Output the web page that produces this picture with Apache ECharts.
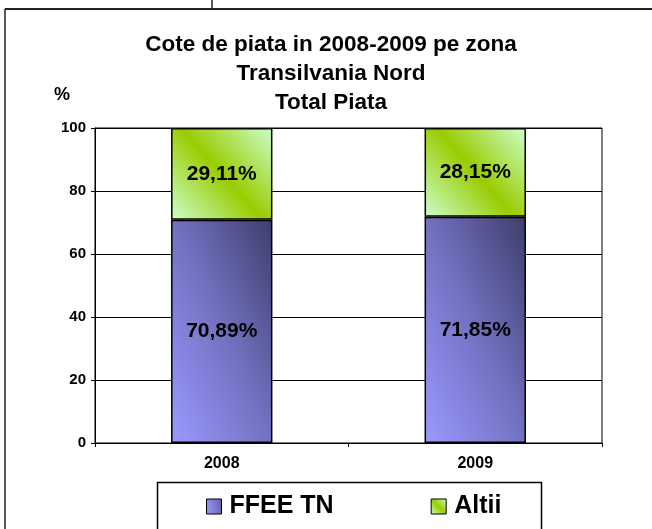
<!DOCTYPE html>
<html>
<head>
<meta charset="utf-8">
<script src="https://cdn.jsdelivr.net/npm/echarts@6/dist/echarts.min.js"></script>
<style>
html,body{margin:0;padding:0;background:#fff;}
#chart{width:652px;height:529px;}
</style>
</head>
<body>
<div id="chart"></div>
<script>
var categories = ['2008', '2009'];
var seriesNames = ['FFEE TN', 'Altii'];
var ffeeValues = [70.89, 71.85];
var altiiValues = [29.11, 28.15];
var yTicks = [0, 20, 40, 60, 80, 100];
var titleLines = ['Cote de piata in 2008-2009 pe zona', 'Transilvania Nord', 'Total Piata'];
var yUnit = '%';

var FONT = '"Liberation Sans", Arial, sans-serif';
var chart = echarts.init(document.getElementById('chart'), null, {renderer: 'canvas'});

function pctLabel(p) {
  return p.value.toFixed(2).replace('.', ',') + '%';
}

var ffeeColor = new echarts.graphic.LinearGradient(0, 1, 1.66, 0.66, [
  {offset: 0, color: '#9a9aff'},
  {offset: 0.5, color: '#7272c2'},
  {offset: 1, color: '#3e3e6c'}
]);
var altiiColor = new echarts.graphic.LinearGradient(1, 0, 0, 1, [
  {offset: 0, color: '#ccffcc'},
  {offset: 0.5, color: '#99cc00'},
  {offset: 1, color: '#ccffcc'}
]);

var option = {
  backgroundColor: '#ffffff',
  animation: false,
  textStyle: {fontFamily: FONT},
  grid: {
    left: 95, right: 50, top: 128, bottom: 86,
    show: true, borderColor: '#000', borderWidth: 1, backgroundColor: 'transparent'
  },
  graphic: [
    {type: 'line', shape: {x1: 5, y1: 9, x2: 652, y2: 9}, style: {stroke: '#222', lineWidth: 2}},
    {type: 'line', shape: {x1: 5, y1: 9, x2: 5, y2: 529}, style: {stroke: '#222', lineWidth: 1.5}},
    {type: 'line', shape: {x1: 212, y1: 0, x2: 212, y2: 9}, style: {stroke: '#222', lineWidth: 1.5}},
    {type: 'rect', shape: {x: 157.5, y: 482.5, width: 384, height: 60}, style: {fill: 'none', stroke: '#000', lineWidth: 1.5}},
    {type: 'text', x: 331, y: 45, style: {text: titleLines[0], font: 'bold 22.5px ' + FONT, fill: '#000', align: 'center', verticalAlign: 'middle'}},
    {type: 'text', x: 331, y: 74, style: {text: titleLines[1], font: 'bold 22.5px ' + FONT, fill: '#000', align: 'center', verticalAlign: 'middle'}},
    {type: 'text', x: 331, y: 103, style: {text: titleLines[2], font: 'bold 22.5px ' + FONT, fill: '#000', align: 'center', verticalAlign: 'middle'}},
    {type: 'text', x: 62, y: 95, style: {text: yUnit, font: 'bold 18px ' + FONT, fill: '#000', align: 'center', verticalAlign: 'middle'}}
  ],
  legend: {
    data: seriesNames,
    left: 206, top: 494, padding: 0,
    itemWidth: 15, itemHeight: 15, itemGap: 97,
    icon: 'rect',
    itemStyle: {borderColor: '#000', borderWidth: 1},
    textStyle: {fontSize: 25, fontWeight: 'bold', color: '#000', fontFamily: FONT, padding: [0, 0, 0, 3]}
  },
  xAxis: {
    type: 'category',
    data: categories,
    axisLine: {show: true, lineStyle: {color: '#000', width: 1}},
    axisTick: {show: true, length: 4, lineStyle: {color: '#000'}},
    axisLabel: {fontSize: 16, fontWeight: 'bold', color: '#000', margin: 13, fontFamily: FONT},
    splitLine: {show: false}
  },
  yAxis: {
    type: 'value',
    min: 0, max: 100, interval: 20,
    axisLine: {show: true, lineStyle: {color: '#000', width: 1}},
    axisTick: {show: true, length: 4, lineStyle: {color: '#000'}},
    axisLabel: {fontSize: 15, fontWeight: 'bold', color: '#000', margin: 9, fontFamily: FONT,
      formatter: function (v) { return yTicks.indexOf(v) >= 0 ? String(v) : ''; }},
    splitLine: {show: true, lineStyle: {color: '#000', width: 1}}
  },
  series: [
    {
      name: seriesNames[0], type: 'bar', stack: 'total', barWidth: '40%',
      data: ffeeValues,
      itemStyle: {color: ffeeColor, borderColor: '#000', borderWidth: 1.5},
      label: {show: true, position: 'inside', formatter: pctLabel, fontSize: 21, fontWeight: 'bold', color: '#000', fontFamily: FONT}
    },
    {
      name: seriesNames[1], type: 'bar', stack: 'total', barWidth: '40%',
      data: altiiValues,
      itemStyle: {color: altiiColor, borderColor: '#000', borderWidth: 1.5},
      label: {show: true, position: 'inside', formatter: pctLabel, fontSize: 21, fontWeight: 'bold', color: '#000', fontFamily: FONT}
    }
  ]
};
chart.setOption(option);
</script>
</body>
</html>
